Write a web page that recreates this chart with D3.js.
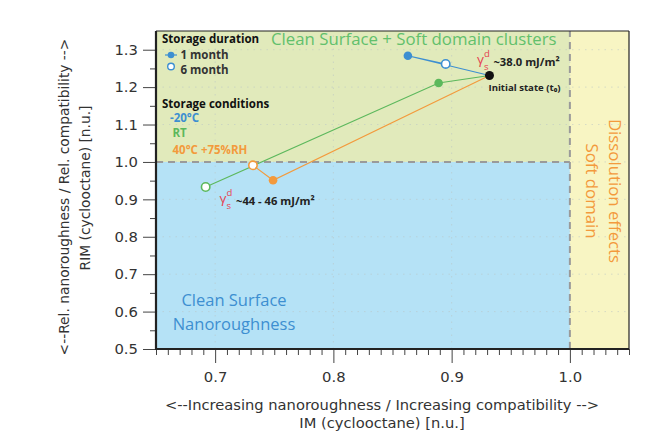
<!DOCTYPE html>
<html><head><meta charset="utf-8">
<script src="https://cdn.jsdelivr.net/npm/d3@7"></script>
<style>
html,body{margin:0;padding:0;background:#fff;}
svg{display:block;}
</style></head>
<body>
<svg id="chart" width="658" height="432"></svg>
<script>
// ---- data ----
const conditions = ["-20°C", "RT", "40°C +75%RH"];
const conditionColors = ["#3d8fd1", "#5cb85c", "#f39a3c"];
const initialIM = 0.932;
const initialRIM = 1.231;
const month1IM = [0.863, 0.889, 0.749];
const month1RIM = [1.284, 1.211, 0.951];
const month6IM = [0.895, 0.692, 0.732];
const month6RIM = [1.262, 0.933, 0.991];
const xTicks = [0.7, 0.8, 0.9, 1.0];
const yTicks = [0.5, 0.6, 0.7, 0.8, 0.9, 1.0, 1.1, 1.2, 1.3];
const xDomain = [0.65, 1.05];
const yDomain = [0.5, 1.35];
const threshold = 1.0;

const W = 658, H = 432;
const m = {left: 156, right: 29, top: 31, bottom: 83};
const svg = d3.select("#chart");
const x = d3.scaleLinear().domain(xDomain).range([m.left, W - m.right]);
const y = d3.scaleLinear().domain(yDomain).range([H - m.bottom, m.top]);

// ---- background regions ----
const g = svg.append("g");
g.append("rect").attr("x", x(xDomain[0])).attr("y", y(yDomain[1]))
  .attr("width", x(threshold) - x(xDomain[0])).attr("height", y(threshold) - y(yDomain[1]))
  .attr("fill", "#e1eabb");
g.append("rect").attr("x", x(xDomain[0])).attr("y", y(threshold))
  .attr("width", x(threshold) - x(xDomain[0])).attr("height", y(yDomain[0]) - y(threshold))
  .attr("fill", "#b5e2f6");
g.append("rect").attr("x", x(threshold)).attr("y", y(yDomain[1]))
  .attr("width", x(xDomain[1]) - x(threshold)).attr("height", y(yDomain[0]) - y(yDomain[1]))
  .attr("fill", "#f8f5c3");

// faint dotted grid
const grid = svg.append("g").attr("stroke", "#b9c4c4").attr("stroke-opacity", 0.55)
  .attr("stroke-dasharray", "1.5,5").attr("stroke-width", 1);
xTicks.forEach(v => grid.append("line").attr("x1", x(v)).attr("x2", x(v)).attr("y1", y(yDomain[0])).attr("y2", y(yDomain[1])));
yTicks.forEach(v => grid.append("line").attr("x1", x(xDomain[0])).attr("x2", x(xDomain[1])).attr("y1", y(v)).attr("y2", y(v)));

// dashed threshold lines
svg.append("line").attr("x1", x(xDomain[0])).attr("x2", x(threshold)).attr("y1", y(threshold)).attr("y2", y(threshold))
  .attr("stroke", "#9a9a9a").attr("stroke-width", 2).attr("stroke-dasharray", "7,5");
svg.append("line").attr("x1", x(threshold)).attr("x2", x(threshold)).attr("y1", y(yDomain[0])).attr("y2", y(yDomain[1]))
  .attr("stroke", "#9a9a9a").attr("stroke-width", 2).attr("stroke-dasharray", "7,5");

// region labels
const sans = "'Open Sans', 'Noto Sans', sans-serif";
svg.append("text").attr("x", 271).attr("y", 45).attr("text-anchor", "start")
  .attr("font-family", sans).attr("font-size", 16.8).attr("fill", "#62c06c")
  .text("Clean Surface + Soft domain clusters");
const cs = svg.append("text").attr("font-family", sans).attr("font-size", 16.5).attr("fill", "#3d8fd1")
  .attr("text-anchor", "middle");
cs.append("tspan").attr("x", 234).attr("y", 306).text("Clean Surface");
cs.append("tspan").attr("x", 234).attr("y", 330).text("Nanoroughness");
const de = svg.append("text").attr("font-family", sans).attr("font-size", 16.8).attr("fill", "#f39a3c")
  .attr("text-anchor", "middle").attr("transform", `translate(${x(1.025) - 2.5},${y(0.925) + 1})rotate(90)`);
de.append("tspan").attr("x", 0).attr("y", -12).text("Dissolution effects");
de.append("tspan").attr("x", 0).attr("y", 11).text("Soft domain");

// ---- series lines and points ----
conditions.forEach((c, i) => {
  const pts = [[initialIM, initialRIM], [month1IM[i], month1RIM[i]], [month6IM[i], month6RIM[i]]];
  svg.append("path").datum(pts)
    .attr("d", d3.line().x(d => x(d[0])).y(d => y(d[1])))
    .attr("fill", "none").attr("stroke", conditionColors[i]).attr("stroke-width", 1.1);
});
conditions.forEach((c, i) => {
  svg.append("circle").attr("cx", x(month1IM[i])).attr("cy", y(month1RIM[i])).attr("r", 4.3)
    .attr("fill", conditionColors[i]);
  svg.append("circle").attr("cx", x(month6IM[i])).attr("cy", y(month6RIM[i])).attr("r", 4.2)
    .attr("fill", "#fff").attr("stroke", conditionColors[i]).attr("stroke-width", 1.6);
});
svg.append("circle").attr("cx", x(initialIM)).attr("cy", y(initialRIM)).attr("r", 4.5).attr("fill", "#111");

// ---- annotations ----
function gamma(px, py, label, size) {
  const red = "#e5414f";
  const t = svg.append("text").attr("x", px).attr("y", py).attr("font-family", sans).attr("font-size", 13.5)
    .attr("fill", red);
  t.append("tspan").text("γ");
  t.append("tspan").attr("x", px + 7).attr("y", py - 7).attr("font-size", 9.5).text("d");
  t.append("tspan").attr("x", px + 7).attr("y", py + 6.5).attr("font-size", 9.5).text("s");
  svg.append("text").attr("x", px + 16.5).attr("y", py + 2.5).attr("font-family", sans).attr("font-size", size)
    .attr("font-weight", "bold").attr("fill", "#222").text(label);
}
gamma(x(initialIM) - 12.5, y(initialRIM) - 12, "~38.0 mJ/m²", 11.2);
gamma(219.5, 202.5, "~44 - 46 mJ/m²", 11.2);
svg.append("text").attr("x", x(initialIM) - 1).attr("y", y(initialRIM) + 15.5)
  .attr("font-family", sans).attr("font-size", 9.6).attr("font-weight", "bold").attr("fill", "#222")
  .text("Initial state (t₀)");

// ---- legend ----
const lg = svg.append("g").attr("font-family", sans).attr("font-size", 11.5).attr("font-weight", "bold");
lg.append("text").attr("x", 162).attr("y", 42.5).attr("fill", "#111").text("Storage duration");
lg.append("line").attr("x1", 165).attr("x2", 177).attr("y1", 55).attr("y2", 55).attr("stroke", conditionColors[0]).attr("stroke-width", 1.2);
lg.append("circle").attr("cx", 171).attr("cy", 55).attr("r", 3.3).attr("fill", conditionColors[0]);
lg.append("text").attr("x", 180.5).attr("y", 58.5).attr("fill", "#333").text("1 month");
lg.append("circle").attr("cx", 171).attr("cy", 66.5).attr("r", 3.3).attr("fill", "#fff").attr("stroke", conditionColors[0]).attr("stroke-width", 1.4);
lg.append("text").attr("x", 180.5).attr("y", 74).attr("fill", "#333").text("6 month");
lg.append("text").attr("x", 162).attr("y", 107.5).attr("fill", "#111").text("Storage conditions");
const condY = [121.5, 137, 153.5];
const condX = [170, 172.5, 172.5];
conditions.forEach((c, i) => {
  lg.append("text").attr("x", condX[i]).attr("y", condY[i]).attr("fill", conditionColors[i]).text(c);
});

// ---- axes ----
const axFont = "'DejaVu Sans', Verdana, sans-serif";
const xMinor = d3.range(65, 106).map(v => v / 100).filter(v => !xTicks.some(t => Math.abs(t - v) < 1e-9));
const yMinor = d3.range(10, 27).map(v => v / 20).filter(v => !yTicks.some(t => Math.abs(t - v) < 1e-9));
const xAxisG = svg.append("g").attr("transform", `translate(0,${y(yDomain[0])})`)
  .call(d3.axisBottom(x).tickValues(xMinor).tickSize(6).tickFormat(""));
const xAxisMajor = svg.append("g").attr("transform", `translate(0,${y(yDomain[0])})`)
  .call(d3.axisBottom(x).tickValues(xTicks).tickSize(14).tickPadding(8).tickFormat(d3.format(".1f")));
const yAxisG = svg.append("g").attr("transform", `translate(${x(xDomain[0])},0)`)
  .call(d3.axisLeft(y).tickValues(yMinor).tickSize(6).tickFormat(""));
const yAxisMajor = svg.append("g").attr("transform", `translate(${x(xDomain[0])},0)`)
  .call(d3.axisLeft(y).tickValues(yTicks).tickSize(13).tickPadding(5).tickFormat(d3.format(".1f")));
[xAxisG, xAxisMajor, yAxisG, yAxisMajor].forEach(a => {
  a.select(".domain").remove();
  a.selectAll(".tick line").attr("stroke", "#444").attr("stroke-width", 1);
  a.selectAll("text").attr("font-family", axFont).attr("font-size", 14.8).attr("fill", "#333");
});
// frame
svg.append("line").attr("x1", x(xDomain[0])).attr("x2", x(xDomain[0])).attr("y1", y(yDomain[0]) + 1).attr("y2", y(yDomain[1]))
  .attr("stroke", "#222").attr("stroke-width", 2.2);
svg.append("line").attr("x1", x(xDomain[0]) - 1).attr("x2", x(xDomain[1])).attr("y1", y(yDomain[0])).attr("y2", y(yDomain[0]))
  .attr("stroke", "#222").attr("stroke-width", 2.2);
svg.append("line").attr("x1", x(xDomain[0])).attr("x2", x(xDomain[1])).attr("y1", y(yDomain[1])).attr("y2", y(yDomain[1]))
  .attr("stroke", "#222").attr("stroke-width", 1.2);
svg.append("line").attr("x1", x(xDomain[1])).attr("x2", x(xDomain[1])).attr("y1", y(yDomain[0])).attr("y2", y(yDomain[1]))
  .attr("stroke", "#222").attr("stroke-width", 1.2);

// axis titles
const xt = svg.append("text").attr("font-family", axFont).attr("font-size", 14.7).attr("fill", "#333").attr("text-anchor", "middle");
xt.append("tspan").attr("x", 382).attr("y", 410).text("<--Increasing nanoroughness / Increasing compatibility -->");
xt.append("tspan").attr("x", 382).attr("y", 427.5).text("IM (cyclooctane) [n.u.]");
const yt = svg.append("text").attr("font-family", axFont).attr("font-size", 13.8).attr("fill", "#333").attr("text-anchor", "middle")
  .attr("transform", "rotate(-90)");
yt.append("tspan").attr("x", -197).attr("y", 69).text("<--Rel. nanoroughness / Rel. compatibility -->");
yt.append("tspan").attr("x", -188).attr("y", 90).text("RIM (cyclooctane) [n.u.]");
</script>
</body></html>
